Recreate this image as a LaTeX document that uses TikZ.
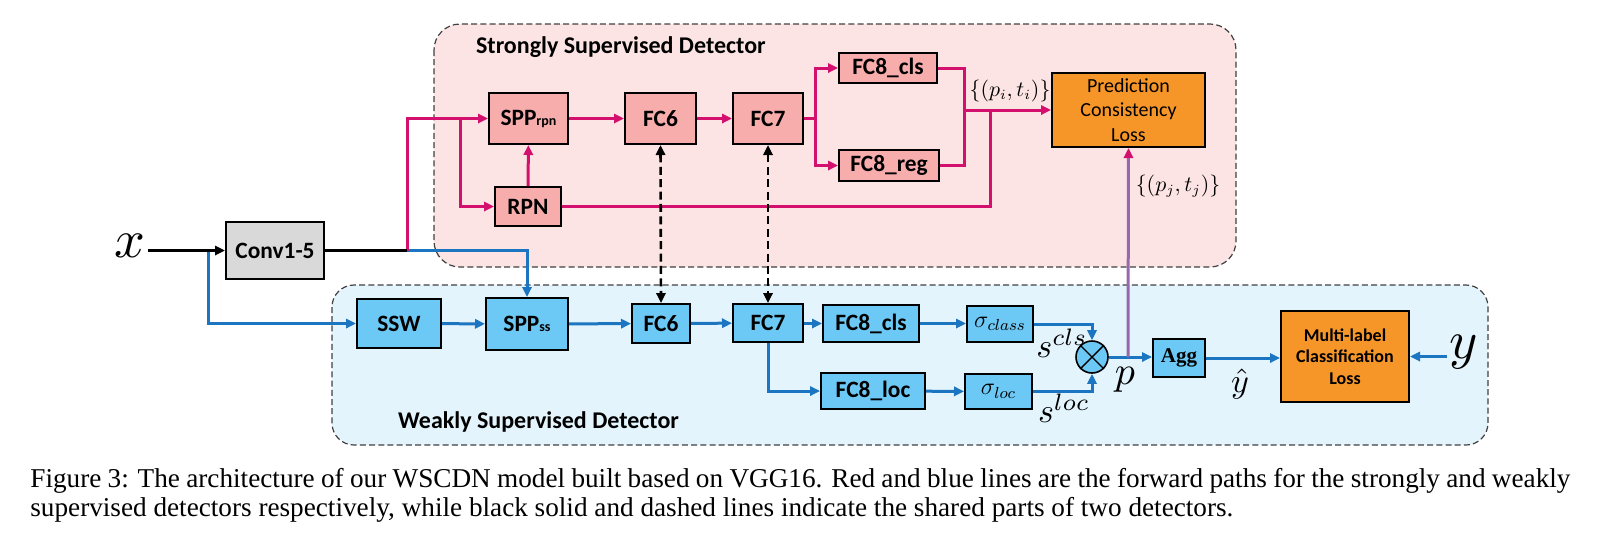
\documentclass[tikz,border=0pt]{standalone}
\usepackage{amsmath}
\usepackage{fontspec}
\setmainfont{Liberation Serif}
\newfontfamily\calfont{Carlito}
\usepackage{tikz}
\usetikzlibrary{arrows.meta,positioning}

\definecolor{redln}{RGB}{212,16,110}
\definecolor{blueln}{RGB}{28,117,192}
\definecolor{mixln}{RGB}{150,105,175}
\definecolor{boxpink}{RGB}{248,173,173}
\definecolor{boxblue}{RGB}{108,200,245}
\definecolor{boxorange}{RGB}{247,150,40}
\definecolor{boxgrey}{RGB}{217,217,217}
\definecolor{regpink}{RGB}{253,228,228}
\definecolor{regblue}{RGB}{227,244,252}

\tikzset{
  box/.style={draw,line width=1pt,inner sep=0pt,
    font=\calfont\bfseries\fontsize{11.7}{14}\selectfont},
  redbox/.style={box,fill=boxpink},
  bluebox/.style={box,fill=boxblue},
  lossbox/.style={box,fill=boxorange,align=center},
  region/.style={draw=black!75,line width=0.6pt,dash pattern=on 3pt off 1.6pt},
  tip/.style={-{Triangle[length=5pt,width=4.6pt]}},
  redline/.style={draw=redln,line width=1.5pt},
  blueline/.style={draw=blueln,line width=1.5pt},
  shared/.style={line width=1.3pt,dash pattern=on 4pt off 2.2pt,
    {Triangle[length=5pt,width=4.6pt]}-{Triangle[length=5pt,width=4.6pt]}},
  mathlab/.style={inner sep=1pt},
  capline/.style={anchor=base west,inner sep=0pt,font=\fontsize{13.6}{15}\selectfont}
}

\begin{document}
\begin{tikzpicture}[x=0.5pt,y=-0.5pt]
\useasboundingbox (0,0) rectangle (1606,554);

% detector regions
\draw[region,fill=regpink,rounded corners=13pt] (434,24) rectangle (1236,267);
\draw[region,fill=regblue,rounded corners=11pt] (332,285) rectangle (1488,445);
\node[anchor=west,font=\calfont\bfseries\fontsize{12}{14}\selectfont] (stitle) at (469,47) {Strongly Supervised Detector};
\node[anchor=west,font=\calfont\bfseries\fontsize{12}{14}\selectfont] (wtitle) at (391,422) {Weakly Supervised Detector};

% shared backbone
\node[box,fill=boxgrey,minimum width=49pt,minimum height=28.5pt] (conv) at (275,250.5) {Conv1-5};
\node[mathlab] (xlab) at (130,246) {\scalebox{2.7}{$x$}};

% strongly supervised branch
\node[redbox,minimum width=39.5pt,minimum height=25.5pt] (sspp) at (528.5,118.5) {SPP{\fontsize{7}{8}\selectfont rpn}};
\node[redbox,minimum width=33pt,minimum height=19.5pt] (rpn) at (528,206.5) {RPN};
\node[redbox,minimum width=35.5pt,minimum height=25.5pt] (sfc6) at (660.5,118.5) {FC6};
\node[redbox,minimum width=35pt,minimum height=25.5pt] (sfc7) at (768,118.5) {FC7};
\node[redbox,minimum width=49pt,minimum height=15pt] (scls) at (888,68) {FC8\_cls};
\node[redbox,minimum width=50pt,minimum height=15.5pt] (sreg) at (889,165.5) {FC8\_reg};
\node[lossbox,minimum width=76.5pt,minimum height=37pt,
  font=\calfont\fontsize{10}{12.3}\selectfont] (pcl) at (1128.5,110) {Prediction\\Consistency\\Loss};
\node[mathlab,font=\fontsize{10.5}{12}\selectfont] (pilab) at (1010,91) {$\{(p_i,t_i)\}$};
\node[mathlab,font=\fontsize{10.5}{12}\selectfont] (pjlab) at (1178,186) {$\{(p_j,t_j)\}$};

% weakly supervised branch
\node[bluebox,minimum width=42pt,minimum height=24.5pt] (ssw) at (399,323.5) {SSW};
\node[bluebox,minimum width=41pt,minimum height=26pt] (wspp) at (527,324) {SPP{\fontsize{7}{8}\selectfont ss}};
\node[bluebox,minimum width=29pt,minimum height=19.5pt] (wfc6) at (661,323.5) {FC6};
\node[bluebox,minimum width=35pt,minimum height=19pt] (wfc7) at (768,323) {FC7};
\node[bluebox,minimum width=48pt,minimum height=18.5pt] (wcls) at (871,323.5) {FC8\_cls};
\node[bluebox,minimum width=52pt,minimum height=18pt] (wloc) at (873,391) {FC8\_loc};
\node[bluebox,minimum width=33pt,minimum height=18pt,font=\fontsize{12}{14}\selectfont] (sigcls) at (1000,324) {$\sigma_{class}$};
\node[bluebox,minimum width=33.5pt,minimum height=17.5pt,font=\fontsize{12}{14}\selectfont] (sigloc) at (998.5,391.5) {$\sigma_{loc}$};
\node[circle,draw,line width=0.8pt,fill=boxblue,minimum size=16pt,inner sep=0pt] (mult) at (1092,357) {};
\draw[line width=0.7pt] (mult.north west) -- (mult.south east) (mult.north east) -- (mult.south west);
\node[bluebox,minimum width=26pt,minimum height=19pt,
  font=\bfseries\fontsize{10.5}{12}\selectfont] (agg) at (1179,358) {Agg};
\node[lossbox,minimum width=64pt,minimum height=45.5pt,
  font=\calfont\bfseries\fontsize{9}{10.8}\selectfont] (mcl) at (1345,356.5) {Multi-label\\Classification\\Loss};
\node[mathlab] (scl) at (1062,343) {\scalebox{1.7}{$s^{cls}$}};
\node[mathlab] (slc) at (1064,408) {\scalebox{1.7}{$s^{loc}$}};
\node[mathlab] (plab) at (1125,380) {\scalebox{2}{$p$}};
\node[mathlab] (yhat) at (1240,384) {\scalebox{1.7}{$\hat{y}$}};
\node[mathlab] (ylab) at (1464,352) {\scalebox{2.7}{$y$}};

\coordinate (wsplit) at (208,250.5);
\coordinate (split) at (407,250.5);
\coordinate (rbranch) at (460,118.5);
\coordinate (fork) at (815,118.5);
\coordinate (merge) at (964,110);
\coordinate (rjoin) at (990,110);
\coordinate (pjunc) at (1128,357);

% blue paths
\draw[blueline,tip] (wsplit) |- (ssw.west);
\draw[blueline,tip] (split) -| (wspp.north);
\draw[blueline,tip] (ssw) -- (wspp);
\draw[blueline,tip] (wspp) -- (wfc6);
\draw[blueline,tip] (wfc6) -- (wfc7);
\draw[blueline,tip] (wfc7.east |- wcls) -- (wcls.west);
\draw[blueline,tip] (wfc7.south) |- (wloc.west);
\draw[blueline,tip] (wcls) -- (sigcls.west |- wcls);
\draw[blueline,tip] (wloc) -- (sigloc);
\draw[blueline,tip] (sigcls.east) -| (mult.north);
\draw[blueline,tip] (sigloc.east) -| (mult.south);
\draw[blueline,tip] (mult.east) -- (agg.west |- mult);
\draw[blueline,tip] (agg.east) -- (mcl.west |- agg);
\draw[blueline,tip] (ylab.west |- mcl) -- (mcl.east);

% red paths
\draw[redline,tip] (split) |- (sspp.west);
\draw[redline,tip] (rbranch) |- (rpn.west);
\draw[redline,tip] (rpn) -- (sspp);
\draw[redline,tip] (sspp) -- (sfc6);
\draw[redline,tip] (sfc6) -- (sfc7);
\draw[redline] (sfc7.east) -- (fork);
\draw[redline,tip] (fork) |- (scls.west);
\draw[redline,tip] (fork) |- (sreg.west);
\draw[redline] (scls.east) -| (merge);
\draw[redline] (sreg.east) -| (merge);
\draw[redline] (rpn.east) -| (rjoin);
\draw[redline,tip] (merge) -- (pcl.west);
\draw[draw=mixln,line width=1.5pt,-{Triangle[length=5pt,width=4.6pt,color=redln]}] (pjunc) -- (pcl.south);

% shared parts
\draw[line width=1.5pt,tip] (xlab.east |- conv) -- (conv.west);
\draw[line width=1.5pt] (conv.east) -- (split);
\draw[shared] (sfc6.south) -- (wfc6.north);
\draw[shared] (sfc7.south) -- (wfc7.north);

% caption
\node[capline] (cap1) at (30,487) {\makebox[770pt][s]{Figure 3: The architecture of our WSCDN model built based on VGG16. Red and blue lines are the forward paths for the strongly and weakly}};
\node[capline] (cap2) at (30,516) {supervised detectors respectively, while black solid and dashed lines indicate the shared parts of two detectors.};
\end{tikzpicture}
\end{document}
